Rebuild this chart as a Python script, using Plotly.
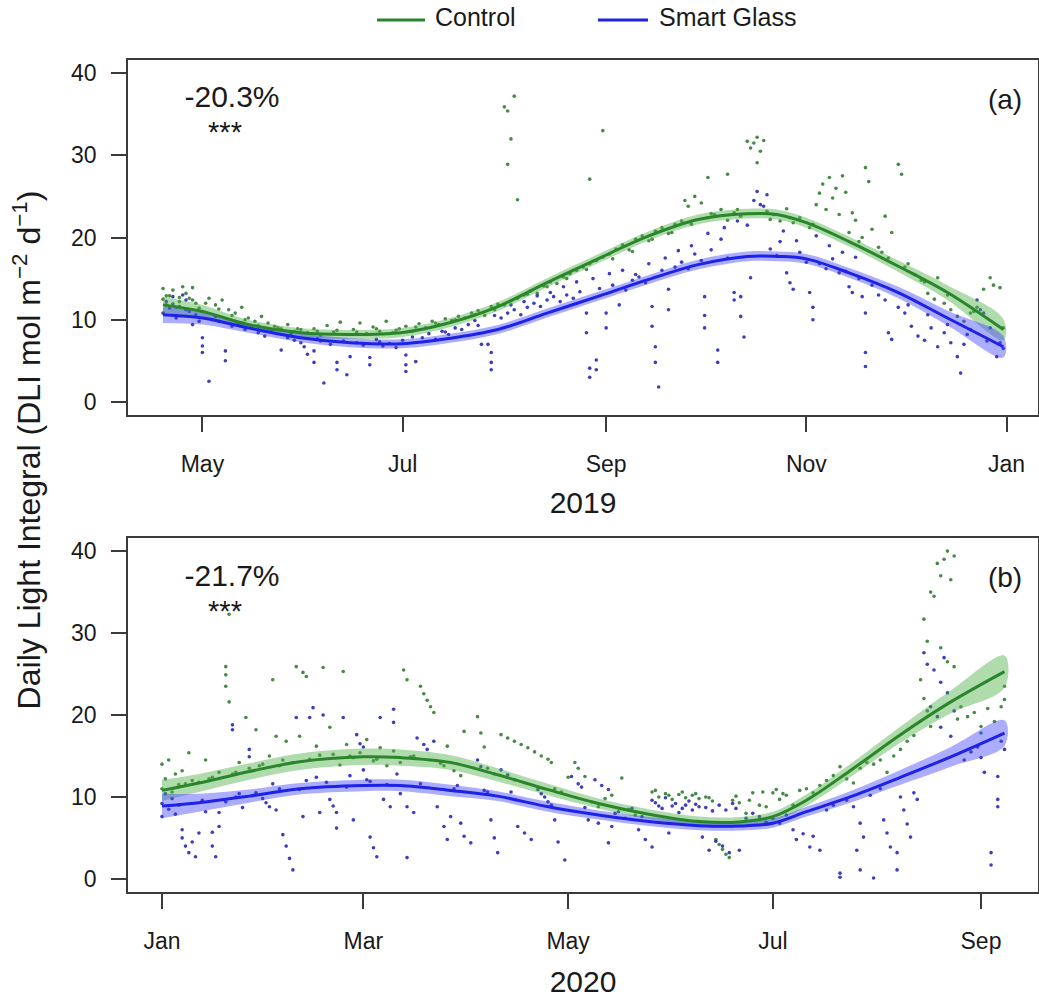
import plotly.graph_objects as go
import pandas as pd

# ---------------- data ----------------
# smooth fits (GAM) : day of year, fitted value, half-width of the confidence band
fit_a_doy = [109, 121, 135, 151, 166, 182, 196, 211, 226, 242, 257, 272, 287, 296, 305, 318, 333, 348, 365]
fit_a_ctrl = [11.8, 11.0, 9.4, 8.4, 8.2, 8.45, 9.6, 11.6, 14.5, 17.5, 20.2, 22.2, 22.9, 22.8, 21.8, 19.5, 16.5, 13.3, 8.8]
fit_a_ctrl_ci = [1.0, 0.8, 0.6, 0.55, 0.55, 0.55, 0.55, 0.55, 0.55, 0.55, 0.55, 0.6, 0.6, 0.6, 0.6, 0.6, 0.7, 0.9, 1.3]
fit_a_sg = [10.6, 10.2, 9.0, 7.8, 7.2, 7.07, 7.7, 8.8, 10.8, 12.9, 14.9, 16.7, 17.7, 17.7, 17.4, 15.7, 13.3, 10.2, 6.7]
fit_a_sg_ci = [1.0, 0.8, 0.6, 0.55, 0.55, 0.55, 0.55, 0.55, 0.55, 0.55, 0.55, 0.6, 0.6, 0.6, 0.6, 0.6, 0.7, 0.9, 1.3]

fit_b_doy = [1, 12, 27, 42, 61, 72, 87, 101, 116, 131, 146, 161, 173, 183, 193, 206, 221, 236, 252]
fit_b_ctrl = [10.8, 11.7, 13.1, 14.3, 14.9, 14.8, 14.2, 12.7, 10.9, 9.2, 7.9, 7.0, 6.95, 7.6, 9.6, 13.2, 17.6, 21.6, 25.3]
fit_b_ctrl_ci = [1.3, 1.1, 1.0, 1.0, 1.0, 1.0, 0.9, 0.8, 0.7, 0.6, 0.6, 0.6, 0.6, 0.6, 0.7, 0.8, 1.0, 1.4, 1.95]
fit_b_sg = [8.9, 9.3, 10.1, 11.0, 11.4, 11.4, 10.8, 10.1, 8.8, 7.8, 7.0, 6.5, 6.45, 6.8, 8.2, 10.0, 12.4, 14.9, 17.8]
fit_b_sg_ci = [1.5, 1.1, 0.8, 0.7, 0.7, 0.7, 0.7, 0.6, 0.6, 0.55, 0.55, 0.55, 0.55, 0.55, 0.6, 0.7, 0.9, 1.2, 1.55]

# daily readings: day of year, DLI
pts_a_ctrl_doy = [109, 109, 110, 111, 112, 113, 114, 115, 116, 117, 118, 119, 120,
                  121, 123, 125, 127, 129, 131, 133, 135, 137, 139, 141, 143, 145, 147, 149, 151,
                  153, 155, 157, 159, 161, 163, 165, 167, 169, 171, 173, 175, 177, 179, 181,
                  183, 185, 187, 189, 191, 193, 195, 197, 199, 201, 203, 205, 207, 209, 211,
                  213, 213, 214, 214, 215, 216, 217, 215, 217, 219, 221, 223, 225, 227, 229, 231, 233, 235, 237, 239, 239, 241, 243, 243,
                  245, 247, 249, 251, 253, 255, 257, 259, 261, 263, 265, 267, 268, 269, 271, 273,
                  275, 275, 277, 279, 281, 281, 283, 285, 287, 288, 289, 290, 291, 290, 292, 293, 295, 297, 299, 301, 303,
                  306, 308, 309, 310, 311, 312, 313, 314, 315, 316, 317, 318, 319, 320, 321, 323, 324, 325, 327, 329, 330, 331, 333, 334,
                  336, 338, 340, 342, 344, 345, 347, 349, 351, 353, 355, 357, 359, 361, 362, 364, 365,
                  110, 114, 118, 122, 126, 130, 134, 138, 144, 150, 156, 162, 168, 174, 180, 186, 192, 198, 204, 210,
                  220, 226, 232, 238, 246, 252, 258, 264, 270, 276, 284, 294, 300, 307, 322, 328, 335, 341, 348, 356]
pts_a_ctrl_val = [12.5, 13.8, 11.8, 12.9, 13.6, 11.5, 12.2, 14.0, 13.2, 12.6, 13.9, 12.0, 11.4,
                  11.0, 12.6, 11.8, 12.4, 11.2, 10.8, 11.5, 10.2, 9.8, 10.4, 9.6, 9.2, 8.9, 9.4, 8.6, 8.8,
                  8.4, 8.9, 8.1, 9.3, 8.5, 9.7, 8.2, 8.8, 9.6, 8.3, 9.1, 8.6, 9.8, 8.4, 8.9,
                  9.2, 8.6, 9.5, 9.0, 9.8, 9.4, 10.1, 9.9, 10.4, 10.2, 10.8, 11.1, 10.5, 11.6, 11.9,
                  11.8, 35.9, 35.4, 28.9, 32.0, 37.2, 24.6, 12.3, 12.6, 13.0, 13.5, 13.2, 14.1, 14.6, 14.4, 15.2, 15.6, 16.0, 16.4, 27.1, 16.8, 17.2, 33.0, 17.6,
                  18.0, 18.6, 19.1, 18.5, 19.8, 20.2, 19.6, 20.8, 21.2, 20.5, 21.6, 22.0, 24.5, 23.8, 25.0, 24.2,
                  27.3, 22.4, 22.8, 23.4, 27.7, 22.1, 23.0, 22.6, 31.7, 30.9, 31.5, 32.2, 30.5, 29.1, 31.8, 23.2, 22.8, 22.0, 23.5, 21.8, 22.4,
                  21.2, 24.0, 25.4, 26.5, 23.4, 27.3, 24.8, 26.0, 22.8, 27.5, 25.5, 20.6, 23.0, 22.1, 19.5, 28.5, 26.8, 21.0, 18.8, 22.6, 17.5, 20.6, 28.9, 27.7,
                  16.8, 15.5, 14.8, 13.2, 12.5, 15.1, 12.0, 11.2, 10.4, 9.8, 10.8, 11.5, 13.7, 15.1, 14.2, 13.9, 9.0,
                  12.9, 12.7, 12.4, 12.0, 11.3, 10.5, 10.0, 9.3, 9.0, 8.9, 8.6, 8.7, 8.5, 8.9, 8.7, 9.1, 9.6, 10.0, 10.6, 11.2,
                  13.1, 14.0, 15.0, 16.1, 17.4, 18.3, 19.8, 20.6, 21.6, 22.9, 23.4, 22.2, 22.4, 21.6, 20.0, 18.2, 16.4, 14.6, 13.0, 11.0]

pts_a_sg_doy = [109, 110, 111, 112, 113, 114, 115, 116, 117, 118, 119, 120,
                121, 121, 121, 123, 124, 126, 128, 128, 130, 132, 134, 136, 138, 140, 142, 145, 147, 149, 151,
                152, 153, 155, 155, 157, 158, 160, 162, 162, 165, 166, 168, 170, 172, 172, 174, 176, 178, 180,
                182, 183, 183, 183, 186, 188, 190, 192, 194, 196, 198, 200, 202, 204, 206, 208, 209, 209, 209, 210, 212,
                214, 216, 218, 220, 222, 224, 226, 228, 230, 232, 234, 236, 238, 238, 239, 239, 241, 241, 242,
                244, 244, 246, 248, 250, 252, 254, 256, 258, 258, 259, 259, 260, 261, 263, 263, 265, 267, 269, 271, 273,
                274, 274, 274, 276, 278, 278, 279, 281, 283, 283, 285, 285, 286, 288, 289, 290, 291, 292, 293, 294, 296, 297, 299, 300, 301, 303,
                305, 306, 307, 307, 309, 311, 313, 315, 317, 318, 319, 321, 322, 323, 323, 323, 325, 327, 329, 330, 331, 333,
                335, 337, 339, 341, 343, 345, 347, 349, 351, 352, 353, 355, 357, 358, 359, 361, 363, 364, 365,
                215, 219, 223, 227, 231, 235, 240, 245, 249, 253, 257, 262, 266, 270, 275, 280, 284, 287, 298, 302, 308, 312, 316, 320,
                112, 116, 125, 133, 141, 148, 156, 164, 175, 185, 195, 205, 336, 342, 348, 354, 360]
pts_a_sg_val = [10.8, 12.2, 11.4, 12.8, 10.2, 11.6, 13.0, 12.4, 11.0, 9.4, 10.6, 9.8,
                7.8, 6.8, 6.0, 2.5, 10.0, 9.8, 6.2, 5.0, 9.2, 9.5, 8.8, 9.1, 8.4, 8.0, 8.6, 6.3, 7.8, 7.5, 7.2,
                6.7, 5.8, 4.8, 6.2, 7.4, 2.3, 7.0, 4.8, 3.9, 3.3, 5.5, 7.2, 6.9, 5.4, 4.5, 7.6, 6.8, 7.1, 6.6,
                7.5, 5.7, 4.5, 3.7, 4.9, 7.8, 8.3, 7.6, 8.6, 8.2, 9.0, 8.8, 9.4, 9.9, 7.0, 7.0, 6.0, 4.8, 3.9, 10.5, 10.2,
                10.8, 11.2, 10.6, 11.5, 12.0, 11.6, 12.4, 12.8, 12.2, 13.0, 12.6, 13.4, 10.8, 8.4, 4.1, 3.0, 5.1, 3.9, 13.8,
                10.8, 9.0, 14.2, 11.8, 13.6, 14.8, 15.2, 14.5, 11.6, 9.2, 6.7, 4.8, 1.8, 16.0, 13.7, 11.2, 16.4, 17.0, 16.2, 18.0, 17.2,
                12.8, 10.5, 9.0, 18.5, 6.3, 4.8, 19.8, 17.5, 13.3, 12.4, 12.8, 10.4, 7.9, 15.1, 24.5, 25.6, 24.0, 23.8, 25.2, 18.6, 17.8, 19.5, 15.7, 14.5, 13.7, 18.2,
                17.0, 13.3, 11.5, 10.0, 16.8, 16.2, 17.4, 15.7, 15.9, 14.0, 13.3, 15.0, 12.8, 10.8, 6.0, 4.3, 14.2, 13.0, 12.4, 8.4, 7.6, 11.5,
                10.8, 9.2, 8.0, 7.5, 9.0, 6.7, 8.4, 7.2, 5.5, 3.5, 7.0, 8.8, 12.4, 11.2, 10.8, 9.0, 5.5, 7.2, 6.5,
                11.8, 12.2, 12.9, 13.3, 14.0, 14.6, 15.0, 15.6, 16.0, 15.5, 16.8, 17.5, 18.4, 19.0, 20.5, 21.2, 22.0, 21.5, 20.8, 19.6, 20.2, 19.0, 18.2, 17.6,
                11.9, 11.2, 10.4, 9.6, 8.9, 8.3, 7.7, 7.4, 7.3, 7.9, 8.5, 9.3, 11.8, 10.6, 9.4, 8.2, 7.4]

pts_b_ctrl_doy = [1, 1, 2, 3, 4, 5, 6, 7, 9, 10, 12, 14, 16, 18, 20, 20, 20, 21, 21, 22, 24, 26, 27, 29, 31,
                  33, 34, 35, 36, 38, 40, 41, 42, 43, 44, 45, 47, 49, 51, 52, 54, 55, 56, 58,
                  60, 62, 64, 66, 68, 70, 72, 73, 74, 76, 78, 79, 80, 81, 82, 84, 86, 88, 90,
                  91, 95, 96, 97, 98, 100, 102, 104, 106, 108, 110, 112, 114, 116, 117, 118, 120,
                  122, 124, 125, 127, 129, 131, 133, 135, 138, 140, 142,
                  147, 149, 151, 153, 155, 157, 159, 161, 163, 165, 166, 167, 168, 169, 170, 171, 173, 175, 177, 179, 181,
                  183, 185, 187, 189, 191, 193, 195, 197, 199, 201, 203, 205, 207, 209, 211,
                  213, 215, 217, 219, 221, 223, 225, 227, 228, 229, 230, 228, 229, 230, 231, 232, 233, 233, 234, 235, 235, 236, 237, 237, 238,
                  239, 241, 243, 245, 245, 247, 249, 251, 252, 252,
                  148, 152, 156, 160, 164, 172, 176, 180, 184, 186, 8, 15, 23, 30, 37, 48, 57, 65, 75, 85]
pts_b_ctrl_val = [14.0, 11.0, 12.2, 14.5, 10.6, 12.8, 11.5, 13.2, 15.4, 12.0, 11.8, 14.5, 12.4, 13.0, 25.9, 24.9, 23.5, 21.6, 32.3, 12.8, 14.2, 19.7, 13.5, 18.2, 14.0,
                  15.0, 24.3, 17.4, 13.8, 16.8, 14.2, 25.9, 17.4, 25.2, 24.7, 14.6, 16.2, 25.8, 18.5, 15.2, 13.9, 25.3, 16.4, 14.8,
                  15.4, 17.0, 14.4, 16.0, 13.8, 15.6, 14.2, 25.5, 24.3, 15.0, 23.5, 22.6, 21.8, 21.0, 20.3, 14.1, 16.2, 13.2, 12.6,
                  18.0, 19.8, 17.8, 16.1, 13.5, 12.8, 17.6, 17.2, 16.8, 16.4, 16.0, 15.5, 15.0, 14.6, 14.2, 11.0, 10.6,
                  12.4, 14.2, 13.5, 12.5, 9.4, 8.8, 9.8, 10.2, 12.3, 8.5, 7.8,
                  10.6, 10.0, 10.4, 9.7, 10.3, 9.9, 10.2, 9.8, 10.0, 9.5, 4.8, 4.2, 3.6, 3.0, 2.6, 9.6, 9.3, 8.0, 10.5, 9.0, 8.8,
                  10.5, 9.7, 10.2, 9.0, 10.8, 11.0, 10.5, 11.4, 12.0, 12.6, 13.7, 12.2, 11.7, 13.5, 14.2,
                  14.0, 14.5, 13.0, 15.0, 15.8, 16.8, 17.5, 24.3, 22.0, 20.5, 18.6, 31.7, 29.0, 35.0, 34.5, 38.5, 37.0, 28.2, 39.0, 26.5, 40.0, 36.5, 39.4, 25.9, 19.5,
                  21.0, 19.8, 20.3, 18.6, 17.8, 20.8, 19.2, 21.0, 21.9, 23.5,
                  10.8, 10.2, 10.6, 10.4, 9.9, 10.1, 9.6, 10.6, 10.9, 10.4, 11.6, 12.2, 13.0, 13.8, 14.5, 15.1, 15.0, 14.6, 14.9, 13.8]

pts_b_sg_doy = [1, 1, 2, 3, 4, 5, 6, 7, 7, 8, 9, 10, 11, 12, 13, 14, 16, 16, 17, 18, 18, 20, 22, 22, 23, 25, 27, 27, 29, 31,
                32, 33, 35, 36, 37, 38, 39, 40, 41, 42, 43, 44, 45, 46, 48, 49, 50, 51, 52, 53, 53, 55, 56, 58,
                59, 60, 61, 61, 62, 63, 64, 65, 66, 67, 68, 69, 70, 70, 72, 74, 74, 76, 77, 79, 80, 82, 83, 85, 86, 87, 88, 90, 91,
                93, 95, 96, 98, 99, 100, 101, 102, 104, 106, 107, 109, 111, 113, 114, 115, 117, 118, 119, 121,
                123, 125, 126, 128, 130, 131, 132, 134, 134, 135, 137, 139, 141, 143, 145, 147,
                148, 150, 152, 153, 155, 157, 159, 161, 162, 164, 165, 166, 168, 170, 172, 173, 175, 177, 179, 181,
                183, 185, 187, 189, 190, 192, 194, 195, 197, 199, 201, 203, 203, 205, 207, 208, 209, 209, 210, 212,
                213, 215, 216, 217, 218, 220, 220, 221, 222, 223, 224, 225, 226, 228, 229, 230, 231, 232, 233, 233, 234, 235, 236, 237,
                240, 242, 244, 245, 246, 248, 248, 250, 250, 250, 251, 252,
                147, 149, 151, 154, 156, 158, 160, 163, 167, 169, 171, 24, 34, 47, 57, 63, 71, 78, 89, 97, 105, 116, 127, 136, 144]
pts_b_sg_val = [9.2, 7.6, 10.4, 8.5, 9.8, 7.9, 9.0, 6.0, 5.0, 4.0, 3.2, 4.5, 2.7, 5.6, 9.6, 8.2, 5.7, 4.0, 2.7, 8.1, 6.4, 9.4, 18.8, 18.2, 10.0, 8.7, 15.8, 14.9, 10.5, 9.8,
                9.3, 8.8, 8.4, 11.0, 5.4, 4.0, 2.5, 1.1, 19.7, 10.9, 7.6, 12.0, 19.7, 20.9, 8.1, 20.0, 11.8, 9.7, 8.9, 6.2, 8.1, 19.7, 11.2, 7.2,
                17.6, 16.5, 13.3, 16.1, 12.1, 5.1, 3.8, 2.7, 19.7, 9.7, 11.5, 8.8, 20.7, 19.1, 10.4, 8.8, 2.6, 8.1, 17.2, 16.4, 15.8, 16.8, 8.8, 6.4, 4.8, 7.6, 11.0, 6.8, 5.2,
                4.4, 14.5, 13.7, 10.6, 7.2, 5.0, 3.2, 13.3, 12.7, 12.1, 6.4, 5.6, 4.8, 10.9, 10.4, 10.0, 9.0, 7.2, 4.5, 2.3,
                12.5, 11.6, 11.2, 7.2, 12.1, 6.8, 11.4, 10.9, 4.4, 6.4, 8.2, 7.4, 8.6, 6.0, 4.8, 3.9,
                9.3, 8.6, 5.6, 8.9, 8.1, 9.0, 8.4, 8.8, 5.1, 3.5, 8.3, 4.6, 4.0, 3.2, 8.6, 3.5, 7.4, 8.0, 7.6, 6.9,
                7.4, 6.8, 7.8, 6.0, 4.8, 5.5, 3.9, 5.2, 3.5, 8.4, 9.0, 0.7, 0.2, 9.6, 8.8, 3.5, 1.1, 6.8, 5.1, 10.2,
                0.1, 11.0, 7.2, 5.6, 3.9, 3.2, 1.1, 10.0, 8.4, 6.7, 5.1, 10.5, 9.7, 27.6, 26.2, 21.0, 25.5, 19.8, 24.0, 18.5, 27.0, 22.7, 17.4, 20.5,
                14.5, 15.5, 16.1, 14.8, 13.0, 3.2, 1.7, 12.5, 9.7, 8.8, 16.8, 15.8,
                9.6, 8.9, 9.9, 9.2, 8.6, 9.5, 9.1, 8.7, 9.0, 8.4, 9.2, 10.4, 11.6, 12.4, 12.6, 11.9, 12.8, 11.6, 11.4, 10.8, 10.6, 9.4, 8.7, 8.0, 7.6]

series_names = ["Control", "Smart Glass"]
tick_a_vals = ["2019-05-01", "2019-07-01", "2019-09-01", "2019-11-01", "2020-01-01"]
tick_a_text = ["May", "Jul", "Sep", "Nov", "Jan"]
tick_b_vals = ["2020-01-01", "2020-03-01", "2020-05-01", "2020-07-01", "2020-09-01"]
tick_b_text = ["Jan", "Mar", "May", "Jul", "Sep"]
y_ticks = [0, 10, 20, 30, 40]
pct_labels = ["-20.3%", "-21.7%"]
panel_labels = ["(a)", "(b)"]
year_labels = ["2019", "2020"]
y_title = "Daily Light Integral (DLI mol m<sup>\u22122</sup> d<sup>\u22121</sup>)"

# ---------------- styling ----------------
W, H = 1039, 1001
FONT = "Liberation Sans"
TXT = "#1a1a1a"
AX = "#3a3a3a"
C_LINE = {"Control": "#2a862a", "Smart Glass": "#1c22e6"}
C_BAND = {"Control": "rgba(80,175,70,0.45)", "Smart Glass": "rgba(60,60,255,0.42)"}
C_PT = {"Control": "rgba(50,125,50,0.9)", "Smart Glass": "rgba(40,40,185,0.9)"}


def px(x):
    return x / W


def py(y):
    return 1 - y / H


def to_date(year, doys):
    base = pd.Timestamp(f"{year}-01-01")
    return [base + pd.Timedelta(days=int(d) - 1) for d in doys]


fig = go.Figure()

panels = [
    dict(year=2019, xa="x", ya="y",
         fit_doy=fit_a_doy,
         fits={"Control": (fit_a_ctrl, fit_a_ctrl_ci), "Smart Glass": (fit_a_sg, fit_a_sg_ci)},
         pts={"Control": (pts_a_ctrl_doy, pts_a_ctrl_val), "Smart Glass": (pts_a_sg_doy, pts_a_sg_val)}),
    dict(year=2020, xa="x2", ya="y2",
         fit_doy=fit_b_doy,
         fits={"Control": (fit_b_ctrl, fit_b_ctrl_ci), "Smart Glass": (fit_b_sg, fit_b_sg_ci)},
         pts={"Control": (pts_b_ctrl_doy, pts_b_ctrl_val), "Smart Glass": (pts_b_sg_doy, pts_b_sg_val)}),
]

for p in panels:
    for s in series_names:
        d, v = p["pts"][s]
        fig.add_trace(go.Scatter(x=to_date(p["year"], d), y=v, mode="markers",
                                 marker=dict(size=3.6, color=C_PT[s], line=dict(width=0)),
                                 xaxis=p["xa"], yaxis=p["ya"], showlegend=False, hoverinfo="skip"))
    fx = to_date(p["year"], p["fit_doy"])
    for s in series_names:
        m, ci = p["fits"][s]
        hi = [a + b for a, b in zip(m, ci)]
        lo = [a - b for a, b in zip(m, ci)]
        fig.add_trace(go.Scatter(x=fx + fx[::-1], y=hi + lo[::-1], mode="lines",
                                 line=dict(width=0, shape="spline", smoothing=1.0),
                                 fill="toself", fillcolor=C_BAND[s],
                                 xaxis=p["xa"], yaxis=p["ya"], showlegend=False, hoverinfo="skip"))
    for s in series_names:
        m, ci = p["fits"][s]
        fig.add_trace(go.Scatter(x=fx, y=m, mode="lines", name=s,
                                 line=dict(width=3, color=C_LINE[s], shape="spline", smoothing=1.0),
                                 xaxis=p["xa"], yaxis=p["ya"], showlegend=False))

# ---- overlay in pixel units (layout only: legend & labels) ----
def label(x, y, text, size, pos="middle center"):
    fig.add_trace(go.Scatter(x=[x], y=[y], mode="text", text=[text], textposition=pos,
                             textfont=dict(family=FONT, size=size, color=TXT),
                             xaxis="x3", yaxis="y3", showlegend=False, hoverinfo="skip"))


for (x0, x1, tx, s) in [(377, 425, 435, "Control"), (598, 648, 659, "Smart Glass")]:
    fig.add_trace(go.Scatter(x=[x0, x1], y=[20, 20], mode="lines",
                             line=dict(color=C_LINE[s], width=3),
                             xaxis="x3", yaxis="y3", showlegend=False, hoverinfo="skip"))
    label(tx, 20, s, 25, "middle right")

for i, (ytop, ystar, ylab, yyear) in enumerate([(99, 135, 102, 505), (578, 614, 580, 984)]):
    label(232, ytop, pct_labels[i], 30)
    label(225, ystar, "***", 29)
    label(1005, ylab, panel_labels[i], 28)
    label(583, yyear, year_labels[i], 30)

# dummy trace so the title axis gets drawn
fig.add_trace(go.Scatter(x=[None], y=[None], xaxis="x3", yaxis="y4", showlegend=False, hoverinfo="skip"))

axis_common = dict(showline=True, mirror=True, linecolor=AX, linewidth=1.5,
                   ticks="outside", ticklen=15, tickwidth=1.5, tickcolor=AX,
                   showgrid=False, zeroline=False,
                   tickfont=dict(family=FONT, size=23, color=TXT))

x_dom = [px(128), px(1037.5)]
fig.update_layout(
    width=W, height=H,
    margin=dict(l=0, r=0, t=0, b=0),
    paper_bgcolor="white", plot_bgcolor="rgba(0,0,0,0)",
    showlegend=False,
    xaxis=dict(domain=x_dom, anchor="y", type="date",
               range=["2019-04-08 08:00", "2020-01-10 10:00"],
               tickmode="array", tickvals=tick_a_vals, ticktext=tick_a_text,
               ticklabelstandoff=13, **axis_common),
    yaxis=dict(domain=[py(415), py(60)], anchor="x", range=[-1.6, 41.6],
               tickmode="array", tickvals=y_ticks, ticklabelstandoff=10, **axis_common),
    xaxis2=dict(domain=x_dom, anchor="y2", type="date",
                range=["2019-12-21 21:00", "2020-09-17 20:00"],
                tickmode="array", tickvals=tick_b_vals, ticktext=tick_b_text,
                ticklabelstandoff=13, **axis_common),
    yaxis2=dict(domain=[py(892), py(538)], anchor="x2", range=[-1.6, 41.6],
                tickmode="array", tickvals=y_ticks, ticklabelstandoff=10, **axis_common),
    xaxis3=dict(domain=[0, 1], range=[0, W], visible=False, fixedrange=True),
    yaxis3=dict(domain=[0, 1], range=[H, 0], visible=False, fixedrange=True, anchor="x3"),
    yaxis4=dict(domain=[py(900), py(0)], anchor="free", position=px(52),
                range=[0, 1], showline=False, ticks="", showticklabels=False,
                showgrid=False, zeroline=False, fixedrange=True,
                title=dict(text=y_title, standoff=0, font=dict(family=FONT, size=32, color=TXT))),
)

fig.write_html("out.html")
